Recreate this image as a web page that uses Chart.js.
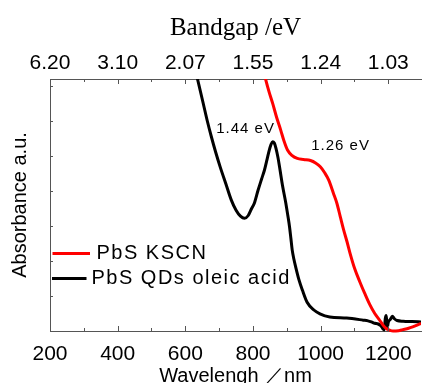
<!DOCTYPE html>
<html><head><meta charset="utf-8">
<script src="https://cdn.jsdelivr.net/npm/chart.js@4"></script>
<style>html,body{margin:0;padding:0;background:#fff;overflow:hidden}#wrap{width:425px;height:383px;position:relative}</style>
</head><body><div id="wrap"><canvas id="c" width="425" height="383"></canvas></div>
<script>
// Wavelength (nm) and absorbance (a.u.)
const waveKSCN = [800, 820, 838, 848, 858, 870, 882, 892, 902, 915, 931, 950, 970, 985, 999, 1012, 1024, 1038, 1048, 1058, 1068, 1078, 1087, 1100, 1116, 1130, 1145, 1160, 1175, 1185, 1194, 1205, 1214, 1230, 1243, 1260, 1272, 1285, 1297];
const absKSCN  = [8.7, 7.9, 7.17, 6.82, 6.51, 6.1, 5.74, 5.42, 5.17, 5.02, 4.93, 4.9, 4.87, 4.8, 4.69, 4.52, 4.31, 3.93, 3.65, 3.27, 2.89, 2.55, 2.22, 1.8, 1.4, 1.08, 0.76, 0.5, 0.3, 0.16, 0.07, 0.02, 0.0, 0.01, 0.04, 0.08, 0.12, 0.17, 0.22];
const waveOleic = [600, 620, 636, 653, 665, 677, 690, 703, 720, 736, 750, 763, 775, 786, 796, 804, 815, 825, 834, 842, 848, 853, 858, 863, 868, 874, 880, 887, 897, 903, 908, 912, 916, 921, 926, 936, 946, 960, 980, 998, 1027, 1077, 1126, 1140, 1150, 1160, 1170, 1178, 1183, 1188, 1191, 1194, 1197, 1200, 1206, 1212, 1218, 1226, 1244, 1270, 1297];
const absOleic  = [8.6, 7.85, 7.2, 6.5, 6.0, 5.55, 5.1, 4.69, 4.2, 3.74, 3.45, 3.28, 3.22, 3.3, 3.5, 3.65, 4.02, 4.33, 4.6, 4.92, 5.16, 5.32, 5.41, 5.37, 5.22, 4.95, 4.6, 4.17, 3.66, 3.3, 2.98, 2.65, 2.31, 2.05, 1.84, 1.46, 1.17, 0.82, 0.6, 0.49, 0.4, 0.37, 0.31, 0.29, 0.26, 0.22, 0.2, 0.15, 0.08, 0.03, 0.35, 0.44, 0.1, 0.25, 0.33, 0.42, 0.35, 0.3, 0.28, 0.27, 0.26];
const seriesLabels = ['PbS KSCN', 'PbS QDs oleic acid'];
const seriesColors = ['#ff0000', '#000000'];
const wavelengthTicks = [200, 400, 600, 800, 1000, 1200];
const bandgapTickLabels = ['6.20', '3.10', '2.07', '1.55', '1.24', '1.03'];
const peakLabels = ['1.44 eV', '1.26 eV'];
const peakLabelWave = [778, 1059];
const peakLabelAbs = [5.77, 5.29];

const SANS = "'Liberation Sans', Arial, sans-serif";
const SERIF = "'Liberation Serif', 'Times New Roman', serif";

function pts(xs, ys) { return xs.map((x, i) => ({x: x, y: ys[i]})); }

const decor = {
  id: 'decor',
  afterDraw(chart) {
    const ctx = chart.ctx;
    const xs = chart.scales.x, ys = chart.scales.y;
    const ca = chart.chartArea;
    ctx.save();
    ctx.strokeStyle = '#555';
    ctx.lineWidth = 1;
    ctx.beginPath();
    for (let v = 200; v <= 1297; v += 100) {
      const px = Math.round(xs.getPixelForValue(v)) + 0.5;
      const len = ((v - 200) % 200 === 0) ? 5 : 3;
      ctx.moveTo(px, ca.bottom); ctx.lineTo(px, ca.bottom - len);
      ctx.moveTo(px, ca.top); ctx.lineTo(px, ca.top + len);
    }
    for (let v = 1; v <= 7; v++) {
      const py = Math.round(ys.getPixelForValue(v)) + 0.5;
      ctx.moveTo(ca.left, py); ctx.lineTo(ca.left + 3, py);
    }
    ctx.stroke();

    // legend
    const ds = chart.data.datasets;
    const leg = [
      {x0: ca.left + 2.5, x1: ca.left + 40, y: 253.5, tx: ca.left + 46.5},
      {x0: ca.left + 2, x1: ca.left + 36.5, y: 278.5, tx: ca.left + 41.5}
    ];
    ctx.font = '20px ' + SANS;
    ctx.textBaseline = 'middle';
    ctx.textAlign = 'left';
    try { ctx.letterSpacing = '1.5px'; } catch (e) {}
    ds.forEach((d, i) => {
      const L = leg[i];
      ctx.strokeStyle = d.borderColor;
      ctx.lineWidth = 3;
      ctx.beginPath(); ctx.moveTo(L.x0, L.y); ctx.lineTo(L.x1, L.y); ctx.stroke();
      ctx.fillStyle = '#000';
      ctx.fillText(d.label, L.tx, L.y);
    });

    // peak annotations
    ctx.font = '15px ' + SANS;
    try { ctx.letterSpacing = '1px'; } catch (e) {}
    ctx.textAlign = 'center';
    ctx.fillStyle = '#000';
    peakLabels.forEach((t, i) => {
      ctx.fillText(t, xs.getPixelForValue(peakLabelWave[i]), ys.getPixelForValue(peakLabelAbs[i]));
    });
    ctx.restore();
  }
};

new Chart(document.getElementById('c'), {
  type: 'line',
  data: {
    datasets: [
      {label: seriesLabels[0], data: pts(waveKSCN, absKSCN), borderColor: seriesColors[0], borderWidth: 3, pointRadius: 0, fill: false, cubicInterpolationMode: 'monotone', clip: {left: 0, top: 0, right: 0, bottom: 3}},
      {label: seriesLabels[1], data: pts(waveOleic, absOleic), borderColor: seriesColors[1], borderWidth: 3, pointRadius: 0, fill: false, cubicInterpolationMode: 'monotone', clip: {left: 0, top: 0, right: 0, bottom: 3}}
    ]
  },
  options: {
    responsive: false,
    devicePixelRatio: 1,
    animation: false,
    layout: {padding: 0},
    plugins: {legend: {display: false}, tooltip: {enabled: false}},
    scales: {
      x: {
        type: 'linear', position: 'bottom', min: 200, max: 1297,
        afterBuildTicks: s => { s.ticks = wavelengthTicks.map(v => ({value: v})); },
        ticks: {font: {family: SANS, size: 21, lineHeight: 1}, color: '#000', padding: 13, maxRotation: 0, autoSkip: false,
          callback: (v, i) => String(wavelengthTicks[i])},
        grid: {display: false, drawTicks: false},
        border: {display: true, color: '#555', width: 1},
        title: {display: true, text: 'Wavelengh ／nm', color: '#000', font: {family: SANS, size: 20, lineHeight: 1}, padding: {top: 0, bottom: -3}},
        afterFit: s => { s.height = 52; }
      },
      x2: {
        type: 'linear', position: 'top', min: 200, max: 1297,
        afterBuildTicks: s => { s.ticks = wavelengthTicks.map(v => ({value: v})); },
        ticks: {font: {family: SANS, size: 21, lineHeight: 1}, color: '#000', padding: 5, maxRotation: 0, autoSkip: false,
          callback: (v, i) => bandgapTickLabels[i]},
        grid: {display: false, drawTicks: false},
        border: {display: true, color: '#555', width: 1},
        title: {display: true, text: 'Bandgap /eV', color: '#000', font: {family: SERIF, size: 25, lineHeight: 1}, padding: {top: 16, bottom: 0}},
        afterFit: s => { s.height = 79; }
      },
      y: {
        type: 'linear', min: 0, max: 7.2,
        ticks: {display: false},
        grid: {display: false, drawTicks: false},
        border: {display: true, color: '#555', width: 1},
        title: {display: true, text: 'Absorbance a.u.', color: '#000', font: {family: SANS, size: 20, lineHeight: 1}, padding: {top: 10, bottom: 0}},
        afterFit: s => { s.width = 50; }
      }
    }
  },
  plugins: [decor]
});
</script></body></html>
